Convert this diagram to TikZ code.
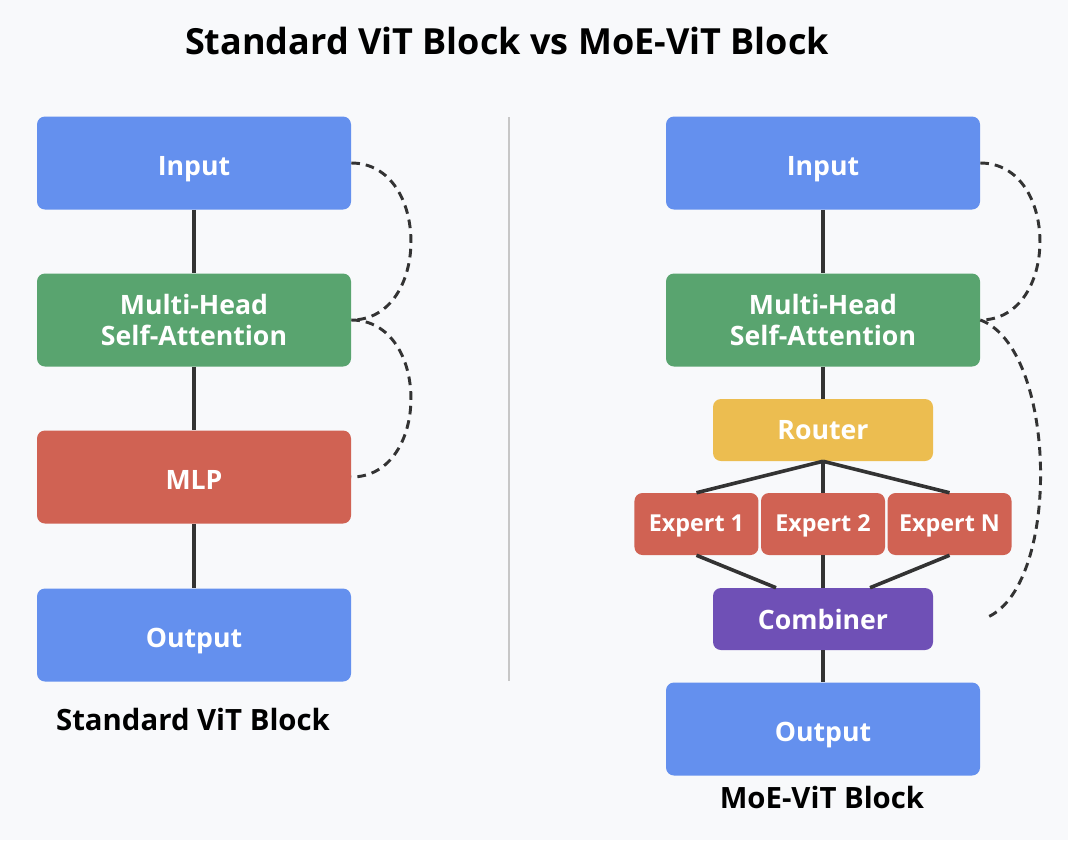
\documentclass[tikz,border=0pt]{standalone}
\usepackage{fontspec}
\setmainfont{Open Sans}
\usepackage{tikz}
\usetikzlibrary{positioning}
\definecolor{bgcol}{HTML}{F8F9FB}
\definecolor{bluebox}{HTML}{6490EE}
\definecolor{greenbox}{HTML}{59A46F}
\definecolor{redbox}{HTML}{D06253}
\definecolor{yellowbox}{HTML}{ECBD50}
\definecolor{purplebox}{HTML}{6F50B6}
\definecolor{linecol}{HTML}{333333}
\tikzset{
x=0.75pt, y=-0.75pt, % one unit is one pixel of the picture
block/.style={rounded corners=6pt, inner sep=0pt, text=white, font=\bfseries\fontsize{20}{23}\selectfont, align=center}, % every box
bigblock/.style={block, minimum width=235.5pt, minimum height=69.75pt}, % input, attention, mlp, output
oneline/.style={text height=19pt, text depth=0pt}, % pushes single-line labels down a bit
midblock/.style={block, minimum width=165pt, minimum height=46.5pt}, % router and combiner
expblock/.style={block, minimum width=93pt, minimum height=46.5pt, text height=11pt, text depth=0pt, font=\bfseries\fontsize{17.5}{20}\selectfont}, % experts
link/.style={draw=linecol, line width=2.7pt}, % solid connectors
skip/.style={draw=linecol, line width=2.2pt, dash pattern=on 6.5pt off 4.5pt}, % residual curves
caption/.style={font=\bfseries\fontsize{22}{26}\selectfont}, % labels under the blocks
}
\begin{document}
\begin{tikzpicture}
    \fill[bgcol] (0,0) rectangle (1068,840);
    \useasboundingbox (0,0) rectangle (1068,840);
    \node[font=\bfseries\fontsize{27}{31}\selectfont] (title) at (507,41) {Standard ViT Block vs MoE-ViT Block};
    % standard block
    \node[bigblock, oneline, fill=bluebox] (in1) at (194,163) {Input};
    \node[bigblock, fill=greenbox] (mh1) at (194,320) {Multi-Head\\Self-Attention};
    \node[bigblock, oneline, fill=redbox] (mlp1) at (194,477) {MLP};
    \node[bigblock, oneline, fill=bluebox] (out1) at (194,635) {Output};
    \node[caption] (cap1) at (193,719) {Standard ViT Block};
    % divider
    \draw[draw=black!22, line width=2pt] (509,117) -- (509,681);
    % moe block
    \node[bigblock, oneline, fill=bluebox] (in2) at (823,163) {Input};
    \node[bigblock, fill=greenbox] (mh2) at (823,320) {Multi-Head\\Self-Attention};
    \node[midblock, fill=yellowbox] (rt) at (823,430) {Router};
    \node[expblock, fill=redbox] (ex2) at (823,524) {Expert 2};
    \node[expblock, fill=redbox, left=1.5pt of ex2] (ex1) {Expert 1};
    \node[expblock, fill=redbox, right=1.5pt of ex2] (exn) {Expert N};
    \node[midblock, fill=purplebox] (comb) at (823,619) {Combiner};
    \node[bigblock, oneline, fill=bluebox] (out2) at (823,729) {Output};
    \node[caption] (cap2) at (822,797) {MoE-ViT Block};
    \coordinate (cend) at (988,617);
    \path[link]
    (in1) edge (mh1)
    (mh1) edge (mlp1)
    (mlp1) edge (out1)
    (in2) edge (mh2)
    (mh2) edge (rt)
    (rt.south) edge (ex1.north)
    (rt.south) edge (ex2.north)
    (rt.south) edge (exn.north)
    (ex1.south) edge (comb.north -| 776,0)
    (ex2.south) edge (comb.north)
    (exn.south) edge (comb.north -| 870,0)
    (comb) edge (out2);
    \path[skip]
    (in1.east) edge[out=0, in=0, looseness=1.3] (mh1.east)
    (mh1.east) edge[out=0, in=0, looseness=1.3] (mlp1.east)
    (in2.east) edge[out=0, in=0, looseness=1.3] (mh2.east)
    (mh2.east) edge[out=-20, in=25, looseness=0.7] (cend);
  \end{tikzpicture}
\end{document}
